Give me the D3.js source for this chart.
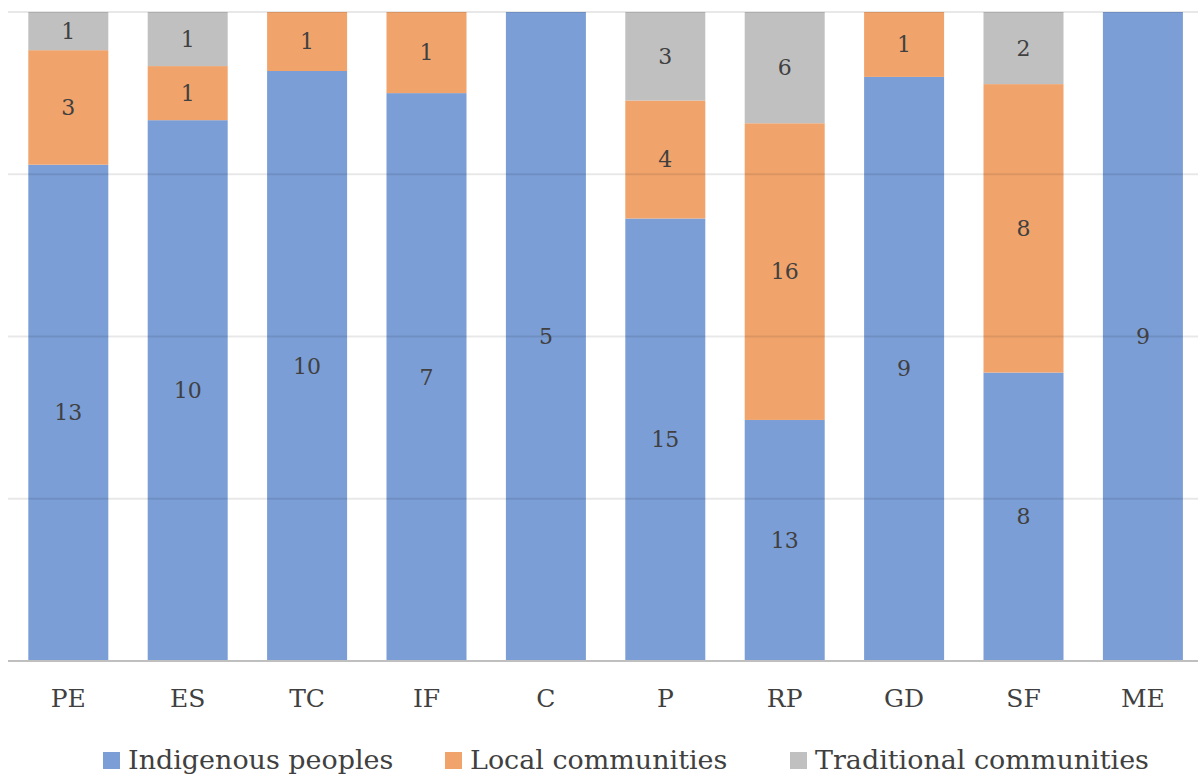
<!DOCTYPE html>
<html>
<head>
<meta charset="utf-8">
<script src="https://cdn.jsdelivr.net/npm/d3@7/dist/d3.min.js"></script>
<style>
  html, body { margin: 0; padding: 0; background: #fff; overflow: hidden; }
  svg { display: block; }
  svg text { font-family: "DejaVu Serif"; }
</style>
</head>
<body>
<svg id="chart" width="1198" height="778"></svg>
<script>
const categories = ["PE", "ES", "TC", "IF", "C", "P", "RP", "GD", "SF", "ME"];
const indigenous = [13, 10, 10, 7, 5, 15, 13, 9, 8, 9];
const local      = [3, 1, 1, 1, 0, 4, 16, 1, 8, 0];
const traditional= [1, 1, 0, 0, 0, 3, 6, 0, 2, 0];
const seriesNames = ["Indigenous peoples", "Local communities", "Traditional communities"];
const seriesColors = ["#7b9ed6", "#f0a46c", "#c0c0c0"];
const yTicks = [0, 0.25, 0.5, 0.75, 1];

const svg = d3.select("#chart");
const textColor = "#404040";

const x = d3.scaleBand().domain(categories).range([8.6, 1202.6]).paddingInner(0.33).paddingOuter(0.165);
const y = d3.scaleLinear().domain([0, 1]).range([661, 12]);

const rows = categories.map((c, i) => {
  const tot = indigenous[i] + local[i] + traditional[i];
  return { cat: c, s0: indigenous[i] / tot, s1: local[i] / tot, s2: traditional[i] / tot,
           v0: indigenous[i], v1: local[i], v2: traditional[i] };
});
const stacked = d3.stack().keys(["s0", "s1", "s2"])(rows);

stacked.forEach((layer, li) => {
  svg.append("g").selectAll("rect").data(layer).join("rect")
    .attr("x", d => x(d.data.cat))
    .attr("width", x.bandwidth())
    .attr("y", d => y(d[1]))
    .attr("height", d => y(d[0]) - y(d[1]))
    .attr("fill", seriesColors[li]);
});

svg.append("g").selectAll("line").data(yTicks.filter(t => t > 0)).join("line")
  .attr("x1", 8).attr("x2", 1198)
  .attr("y1", d => y(d)).attr("y2", d => y(d))
  .attr("stroke", "rgba(0,0,0,0.09)").attr("stroke-width", 2);

const xAxis = d3.axisBottom(x).tickSize(0).tickPadding(0);
const gx = svg.append("g").attr("transform", `translate(0,${y(0)})`).call(xAxis);
gx.attr("font-family", null).attr("font-size", null);
gx.select(".domain").attr("d", "M8,0H1198").attr("stroke", "#bfbfbf").attr("stroke-width", 2);
gx.selectAll("text")
  .attr("y", 46).attr("dy", null)
  .style("font-size", "25px").attr("fill", textColor);

stacked.forEach((layer, li) => {
  const key = "v" + li;
  svg.append("g").selectAll("text").data(layer.filter(d => d.data[key] > 0)).join("text")
    .attr("x", d => x(d.data.cat) + x.bandwidth() / 2)
    .attr("y", d => (y(d[0]) + y(d[1])) / 2)
    .attr("text-anchor", "middle")
    .attr("dominant-baseline", "central")
    .style("font-size", "22px").attr("fill", textColor)
    .text(d => d.data[key]);
});

const legendX = [103, 445, 790];
const lg = svg.append("g");
const texts = [];
seriesNames.forEach((n, i) => {
  lg.append("rect").attr("x", legendX[i]).attr("y", 752).attr("width", 17).attr("height", 17)
    .attr("fill", seriesColors[i]);
  texts.push(lg.append("text").attr("x", legendX[i] + 25).attr("y", 769)
    .style("font-size", "34px").attr("fill", textColor)
    .text(n));
});
// fit legend font so "Traditional communities" spans ~334px as in the reference
const w = texts[2].node().getComputedTextLength();
const fs = Math.min(34, 34 * 334 / w);
texts.forEach(t => t.style("font-size", fs + "px"));
</script>
</body>
</html>
